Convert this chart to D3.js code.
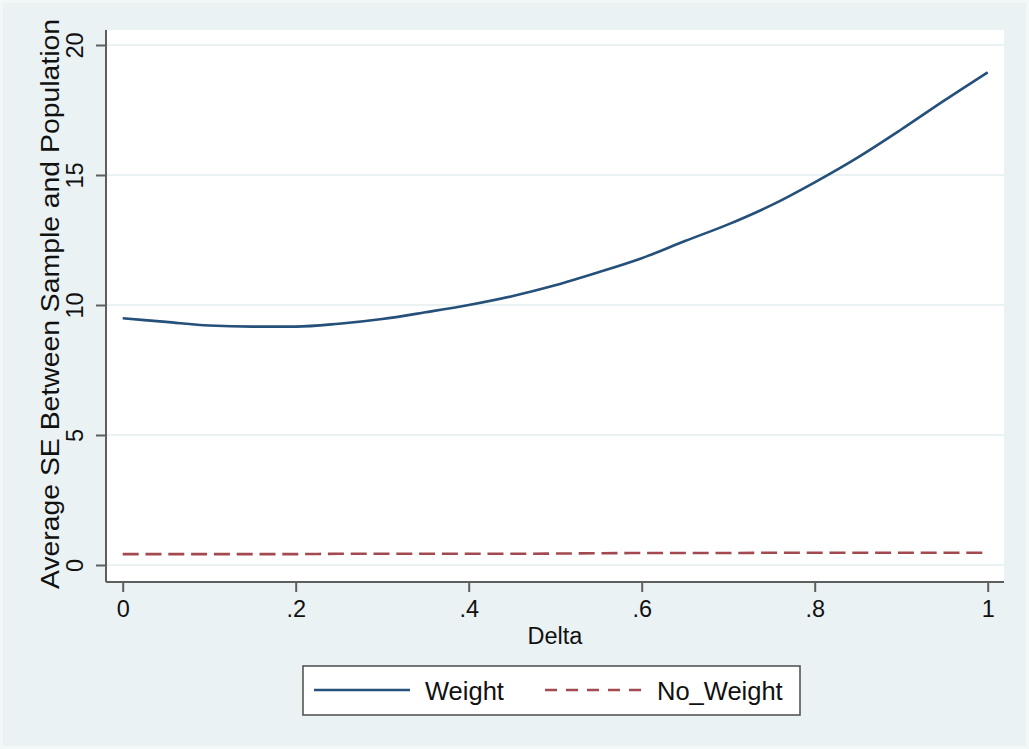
<!DOCTYPE html>
<html>
<head>
<meta charset="utf-8">
<script src="https://cdn.jsdelivr.net/npm/d3@7"></script>
<style>
  html, body { margin: 0; padding: 0; background: #F2F7F8; }
  svg { display: block; }
  text { font-family: "Liberation Sans", Arial, Helvetica, sans-serif; fill: #111; }
</style>
</head>
<body>
<svg id="chart" width="1029" height="749"></svg>
<script>
// ---- data ----
const delta = [0, 0.05, 0.1, 0.15, 0.2, 0.25, 0.3, 0.35, 0.4, 0.45, 0.5,
               0.55, 0.6, 0.65, 0.7, 0.75, 0.8, 0.85, 0.9, 0.95, 1];
const weight = [9.49, 9.35, 9.21, 9.17, 9.17, 9.28, 9.46, 9.72, 10.0, 10.34, 10.76,
                11.26, 11.80, 12.46, 13.10, 13.84, 14.72, 15.68, 16.75, 17.87, 18.95];
const noWeight = [0.42, 0.42, 0.42, 0.42, 0.42, 0.43, 0.43, 0.43, 0.43, 0.43, 0.44,
                  0.45, 0.46, 0.46, 0.46, 0.47, 0.47, 0.47, 0.47, 0.47, 0.47];
const xTickValues = [0, 0.2, 0.4, 0.6, 0.8, 1];
const xTickLabels = ["0", ".2", ".4", ".6", ".8", "1"];
const yTickValues = [0, 5, 10, 15, 20];
const yTickLabels = ["0", "5", "10", "15", "20"];
const seriesNames = ["Weight", "No_Weight"];
const xTitle = "Delta";
const yTitle = "Average SE Between Sample and Population";

// ---- layout ----
const svg = d3.select("#chart");
const bg = "#EAF2F3";
const axisColor = "#5e5e5e";
const plot = { left: 106, right: 1004, top: 30, bottom: 582 };

svg.append("rect").attr("x", 3).attr("y", 3).attr("width", 1023).attr("height", 743).attr("fill", bg);

const x = d3.scaleLinear().domain([0, 1]).range([122.7, 987.7]);
const y = d3.scaleLinear().domain([0, 20]).range([565, 45]);

// plot region
svg.append("rect")
  .attr("x", plot.left).attr("y", plot.top)
  .attr("width", plot.right - plot.left).attr("height", plot.bottom - plot.top)
  .attr("fill", "#fff");

// gridlines
svg.append("g").selectAll("line").data(yTickValues).join("line")
  .attr("x1", plot.left).attr("x2", plot.right)
  .attr("y1", d => y(d)).attr("y2", d => y(d))
  .attr("stroke", bg).attr("stroke-width", 2);

// x axis
const xAxis = d3.axisBottom(x).tickValues(xTickValues)
  .tickFormat((d, i) => xTickLabels[i]).tickSize(10).tickPadding(8).tickSizeOuter(0);
const gx = svg.append("g").attr("transform", `translate(0,${plot.bottom})`).call(xAxis);
gx.select(".domain").remove();
gx.selectAll(".tick line").attr("stroke", axisColor).attr("stroke-width", 2);
gx.selectAll(".tick text").attr("font-size", 23.5).attr("fill", "#111")
  .attr("font-family", "Liberation Sans, Arial, sans-serif");
svg.append("line").attr("x1", plot.left).attr("x2", plot.right)
  .attr("y1", plot.bottom).attr("y2", plot.bottom)
  .attr("stroke", axisColor).attr("stroke-width", 2);

// y axis
const yAxis = d3.axisLeft(y).tickValues(yTickValues)
  .tickFormat((d, i) => yTickLabels[i]).tickSize(10).tickSizeOuter(0);
const gy = svg.append("g").attr("transform", `translate(${plot.left},0)`).call(yAxis);
gy.select(".domain").remove();
gy.selectAll(".tick line").attr("stroke", axisColor).attr("stroke-width", 2);
gy.selectAll(".tick text")
  .attr("font-size", 23.5).attr("fill", "#111")
  .attr("font-family", "Liberation Sans, Arial, sans-serif")
  .attr("x", null).attr("dy", null)
  .attr("text-anchor", "middle")
  .attr("transform", "translate(-23,0) rotate(-90)");
svg.append("line").attr("x1", plot.left).attr("x2", plot.left)
  .attr("y1", plot.top).attr("y2", plot.bottom)
  .attr("stroke", axisColor).attr("stroke-width", 2);

// axis titles
svg.append("text").attr("x", 555).attr("y", 644)
  .attr("text-anchor", "middle").attr("font-size", 23.5).text(xTitle);
svg.append("text")
  .attr("transform", `translate(59,${(18 + 590) / 2}) rotate(-90)`)
  .attr("text-anchor", "middle").attr("font-size", 26)
  .attr("textLength", 570).attr("lengthAdjust", "spacingAndGlyphs")
  .text(yTitle);

// lines
const line = (vals) => d3.line()
  .x((d, i) => x(delta[i])).y(d => y(d))
  .curve(d3.curveMonotoneX)(vals);

svg.append("path").attr("d", line(noWeight))
  .attr("fill", "none").attr("stroke", "#A34A50").attr("stroke-width", 2.6)
  .attr("stroke-dasharray", "16,6.8");
svg.append("path").attr("d", line(weight))
  .attr("fill", "none").attr("stroke", "#24507A").attr("stroke-width", 2.6);

// legend
const lg = svg.append("g");
lg.append("rect").attr("x", 303).attr("y", 666).attr("width", 497).attr("height", 49)
  .attr("fill", "#fff").attr("stroke", "#555").attr("stroke-width", 1.6);
lg.append("line").attr("x1", 314).attr("x2", 410).attr("y1", 690).attr("y2", 690)
  .attr("stroke", "#24507A").attr("stroke-width", 2.6);
lg.append("text").attr("x", 425).attr("y", 699.5).attr("font-size", 25.5).text(seriesNames[0]);
lg.append("line").attr("x1", 545).attr("x2", 641).attr("y1", 690).attr("y2", 690)
  .attr("stroke", "#A34A50").attr("stroke-width", 2.6).attr("stroke-dasharray", "12,9");
lg.append("text").attr("x", 657).attr("y", 699.5).attr("font-size", 25.5).text(seriesNames[1]);
</script>
</body>
</html>
